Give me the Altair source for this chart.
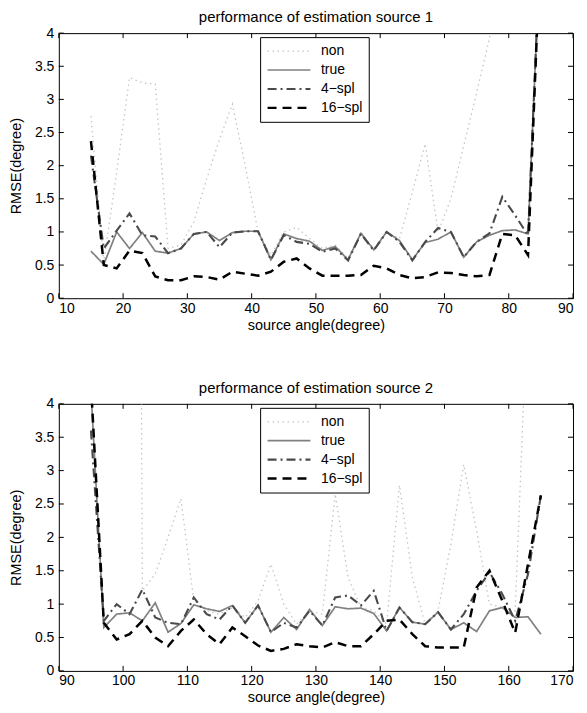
import altair as alt
import pandas as pd

# ---------------- data ----------------
series_names = ["non", "true", "4\u2212spl", "16\u2212spl"]

angles_1 = [15, 17, 19, 21, 23, 25, 27, 29, 31, 33, 35, 37, 39, 41, 43, 45, 47, 49,
            51, 53, 55, 57, 59, 61, 63, 65, 67, 69, 71, 73, 75, 77, 79, 81, 83, 85]
non_1 = [2.75, 0.55, 1.9, 3.33, 3.25, 3.23, 0.75, 0.8, 1.15, 1.8, 2.4, 2.93, 2.0, 1.0,
         0.65, 1.0, 1.07, 0.9, 0.75, 0.8, 0.6, 1.0, 0.75, 1.0, 0.9, 1.6, 2.33, 1.0,
         1.5, 2.3, 3.1, 3.92, 5.0, 6.0, 7.0, 8.0]
true_1 = [0.71, 0.51, 1.0, 0.75, 0.99, 0.71, 0.68, 0.75, 0.97, 1.0, 0.87, 0.99, 1.01,
          1.01, 0.58, 0.97, 0.9, 0.86, 0.72, 0.78, 0.58, 0.98, 0.73, 1.0, 0.87, 0.58,
          0.84, 0.89, 1.0, 0.62, 0.85, 0.95, 1.02, 1.03, 0.97, 5.5]
spl4_1 = [2.15, 0.75, 1.02, 1.28, 0.95, 0.93, 0.68, 0.75, 0.97, 1.0, 0.77, 0.99, 1.01,
          1.01, 0.58, 0.95, 0.85, 0.82, 0.7, 0.75, 0.57, 0.97, 0.72, 1.0, 0.85, 0.57,
          0.85, 1.06, 1.0, 0.62, 0.85, 0.98, 1.53, 1.25, 0.95, 5.5]
spl16_1 = [2.37, 0.5, 0.45, 0.72, 0.68, 0.33, 0.27, 0.27, 0.33, 0.32, 0.28, 0.4, 0.37,
           0.34, 0.4, 0.55, 0.6, 0.45, 0.34, 0.34, 0.34, 0.35, 0.49, 0.45, 0.35, 0.3,
           0.32, 0.39, 0.38, 0.35, 0.33, 0.35, 0.97, 0.95, 0.65, 5.5]

angles_2 = [95, 97, 99, 101, 103, 105, 107, 109, 111, 113, 115, 117, 119, 121, 123, 125,
            127, 129, 131, 133, 135, 137, 139, 141, 143, 145, 147, 149, 151, 153, 155,
            157, 159, 161, 163, 165]
non_2 = [40.0, 40.0, 40.0, 40.0, 1.2, 1.45, 2.0, 2.58, 1.05, 0.9, 0.85, 0.95, 0.8, 1.05,
         1.6, 1.0, 0.7, 0.9, 0.85, 2.65, 1.4, 0.95, 0.9, 0.7, 2.78, 1.4, 0.7, 0.9, 1.9,
         3.09, 2.1, 1.0, 0.95, 0.9, 5.7, 7.0]
true_2 = [4.2, 0.65, 0.85, 0.87, 0.75, 1.02, 0.58, 0.71, 0.99, 0.93, 0.89, 0.98, 0.72,
          0.98, 0.58, 0.8, 0.62, 0.92, 0.68, 0.96, 0.93, 0.94, 0.86, 0.6, 0.95, 0.73,
          0.7, 0.88, 0.62, 0.72, 0.59, 0.9, 0.95, 0.8, 0.81, 0.55]
spl4_2 = [3.6, 0.75, 1.0, 0.85, 1.22, 0.8, 0.72, 0.7, 1.1, 0.85, 0.77, 0.98, 0.72, 0.98,
          0.58, 0.72, 0.65, 0.9, 0.68, 1.1, 1.13, 0.98, 1.2, 0.6, 0.95, 0.73, 0.7, 0.88,
          0.62, 0.85, 1.2, 1.48, 1.15, 0.75, 1.45, 2.63]
spl16_2 = [4.3, 0.72, 0.47, 0.55, 0.75, 0.5, 0.37, 0.6, 0.77, 0.55, 0.4, 0.65, 0.52, 0.38,
           0.3, 0.33, 0.4, 0.37, 0.35, 0.43, 0.37, 0.37, 0.55, 0.75, 0.77, 0.55, 0.37,
           0.35, 0.35, 0.35, 1.25, 1.5, 1.05, 0.57, 1.6, 2.63]

x_ticks_1 = [10, 20, 30, 40, 50, 60, 70, 80, 90]
x_ticks_2 = [90, 100, 110, 120, 130, 140, 150, 160, 170]
y_ticks = [0, 0.5, 1, 1.5, 2, 2.5, 3, 3.5, 4]

titles = ["performance of estimation source 1", "performance of estimation source 2"]

# ---------------- styles ----------------
W = 516
H1 = 266
H2 = 268
FONT = "Liberation Sans"
colors = ["#c4c4c4", "#808080", "#4a4a4a", "#000000"]
dashes = [[1.5, 3.5], [1, 0], [9, 4, 2, 4], [9, 6]]
widths = [1.3, 2.5, 2.5, 2.8]


def long_df(angles, cols):
    rows = []
    for k, (name, vals) in enumerate(zip(series_names, cols)):
        for i, (a, v) in enumerate(zip(angles, vals)):
            rows.append({"angle": a, "rmse": v, "series": name, "k": k, "i": i})
    return pd.DataFrame(rows)


def panel(angles, cols, xticks, title, h):
    df = long_df(angles, cols)
    xs = alt.Scale(domain=[xticks[0], xticks[-1]], nice=False, zero=False)
    ys = alt.Scale(domain=[0, 4], nice=False, zero=False)
    xaxis = alt.Axis(values=xticks, title="source angle(degree)", format="d")
    yaxis = alt.Axis(values=y_ticks, title="RMSE(degree)", format=".1~f")
    legend = alt.Legend(
        title=None, orient="none", legendX=202, legendY=4,
        symbolType="stroke", symbolSize=1849, clipHeight=16,
        labelFont=FONT, labelFontSize=14, labelColor="black",
        fillColor="white", strokeColor="black", padding=6,
        rowPadding=3, labelOffset=9, symbolStrokeWidth=2.5,
    )
    lines = alt.Chart(df).mark_line(clip=True).encode(
        x=alt.X("angle:Q", scale=xs, axis=xaxis),
        y=alt.Y("rmse:Q", scale=ys, axis=yaxis),
        color=alt.Color("series:N", scale=alt.Scale(domain=series_names, range=colors),
                        legend=legend),
        strokeDash=alt.StrokeDash("series:N",
                                  scale=alt.Scale(domain=series_names, range=dashes),
                                  legend=legend),
        strokeWidth=alt.StrokeWidth("series:N",
                                    scale=alt.Scale(domain=series_names, range=widths),
                                    legend=legend),
        detail="k:O",
        order="i:Q",
    )
    xt = pd.DataFrame({"angle": xticks})
    yt = pd.DataFrame({"rmse": y_ticks})
    tick_b = alt.Chart(xt).mark_rule(color="black", strokeWidth=1).encode(
        x=alt.X("angle:Q", scale=xs, axis=xaxis), y=alt.value(h), y2=alt.value(h - 5))
    tick_t = alt.Chart(xt).mark_rule(color="black", strokeWidth=1).encode(
        x=alt.X("angle:Q", scale=xs, axis=xaxis), y=alt.value(0), y2=alt.value(5))
    tick_l = alt.Chart(yt).mark_rule(color="black", strokeWidth=1).encode(
        y=alt.Y("rmse:Q", scale=ys, axis=yaxis), x=alt.value(0), x2=alt.value(5))
    tick_r = alt.Chart(yt).mark_rule(color="black", strokeWidth=1).encode(
        y=alt.Y("rmse:Q", scale=ys, axis=yaxis), x=alt.value(W), x2=alt.value(W - 5))
    return alt.layer(lines, tick_b, tick_t, tick_l, tick_r).properties(
        width=W, height=h,
        title=alt.TitleParams(title, fontSize=15, fontWeight="normal", font=FONT,
                              anchor="middle", offset=1, color="black"),
    )


top = panel(angles_1, [non_1, true_1, spl4_1, spl16_1], x_ticks_1, titles[0], H1)
bottom = panel(angles_2, [non_2, true_2, spl4_2, spl16_2], x_ticks_2, titles[1], H2)

chart = alt.vconcat(top, bottom, spacing=48).resolve_legend(
    color="independent", strokeDash="independent", strokeWidth="independent"
).properties(
    padding={"left": 0, "top": 0, "right": 5, "bottom": 0}, background="white"
).configure_view(
    stroke="black", strokeWidth=1
).configure_axis(
    domain=False, ticks=False, grid=False, labelFont=FONT, labelFontSize=14,
    labelColor="black", titleFont=FONT, titleFontSize=14.5, titleFontWeight="normal",
    titleColor="black", labelPadding=3, titlePadding=3,
).configure_axisY(titlePadding=11, labelPadding=5)

chart.save("out.html", embed_options={"renderer": "svg", "actions": False})
